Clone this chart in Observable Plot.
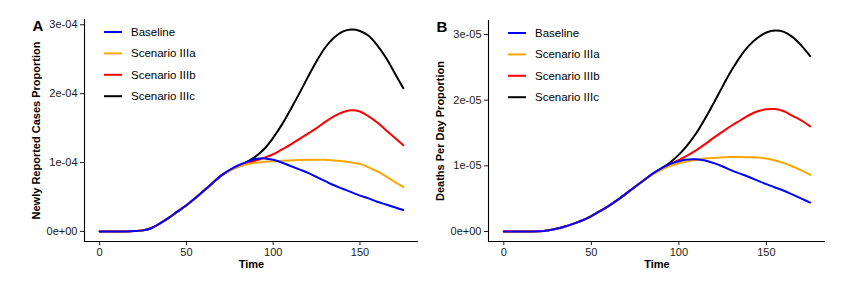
<!DOCTYPE html>
<html><head><meta charset="utf-8">
<script src="https://cdn.jsdelivr.net/npm/d3@7"></script>
<script src="https://cdn.jsdelivr.net/npm/@observablehq/plot@0.6"></script>
<style>
body{margin:0;background:#fff;}
#wrap{position:relative;width:851px;height:282px;overflow:hidden;background:#fff;}
#wrap svg{position:absolute;top:0;}
</style></head><body><div id="wrap"></div>
<script>
// ---------- data ----------
const time = [0,5,10,15,20,25,30,35,40,45,50,55,60,65,70,75,80,85,90,95,100,105,110,115,120,125,130,135,140,145,150,155,160,165,170,175];
const seriesNames = ["Baseline","Scenario IIIa","Scenario IIIb","Scenario IIIc"];
const seriesColors = ["#0000FF","#FFA500","#FF0000","#000000"];

// Panel A: newly reported cases proportion (units of 1e-4)
const casesUnit = 1e-4;
const casesBaseline = [0,0,0,0,0.005,0.015,0.05,0.12,0.2,0.29,0.38,0.48,0.59,0.70,0.81,0.895,0.96,1.01,1.05,1.06,1.04,1.0,0.95,0.90,0.85,0.79,0.73,0.67,0.62,0.57,0.52,0.48,0.43,0.39,0.35,0.31];
const casesIIIa     = [0,0,0,0,0.005,0.015,0.05,0.12,0.2,0.29,0.38,0.48,0.59,0.70,0.81,0.885,0.94,0.975,0.995,1.01,1.02,1.025,1.03,1.035,1.04,1.04,1.04,1.03,1.02,1.00,0.98,0.93,0.87,0.80,0.72,0.645];
const casesIIIb     = [0,0,0,0,0.005,0.015,0.05,0.12,0.2,0.29,0.38,0.48,0.59,0.70,0.81,0.885,0.94,0.985,1.03,1.07,1.12,1.19,1.26,1.34,1.42,1.50,1.59,1.67,1.73,1.76,1.74,1.67,1.58,1.47,1.36,1.25];
const casesIIIc     = [0,0,0,0,0.005,0.015,0.05,0.12,0.2,0.29,0.38,0.48,0.59,0.70,0.81,0.885,0.95,1.01,1.09,1.20,1.36,1.55,1.77,2.0,2.24,2.47,2.67,2.81,2.90,2.93,2.91,2.84,2.70,2.52,2.30,2.08];

// Panel B: deaths per day proportion (units of 1e-5)
const deathsUnit = 1e-5;
const deathsBaseline = [0,0,0,0,0.003,0.015,0.04,0.075,0.12,0.17,0.235,0.31,0.39,0.48,0.58,0.68,0.78,0.88,0.96,1.03,1.07,1.095,1.10,1.08,1.04,0.99,0.93,0.88,0.83,0.775,0.72,0.67,0.62,0.56,0.50,0.44];
const deathsIIIa     = [0,0,0,0,0.003,0.015,0.04,0.075,0.12,0.17,0.235,0.31,0.39,0.48,0.58,0.68,0.78,0.87,0.94,1.0,1.04,1.07,1.09,1.11,1.12,1.13,1.135,1.135,1.13,1.125,1.11,1.08,1.04,0.99,0.93,0.86];
const deathsIIIb     = [0,0,0,0,0.003,0.015,0.04,0.075,0.12,0.17,0.235,0.31,0.39,0.48,0.58,0.68,0.78,0.875,0.95,1.02,1.09,1.16,1.24,1.33,1.43,1.52,1.61,1.69,1.77,1.83,1.86,1.865,1.83,1.76,1.69,1.60];
const deathsIIIc     = [0,0,0,0,0.003,0.015,0.04,0.075,0.12,0.17,0.235,0.31,0.39,0.48,0.58,0.68,0.78,0.875,0.96,1.05,1.17,1.32,1.50,1.72,1.96,2.21,2.45,2.66,2.83,2.95,3.03,3.06,3.04,2.96,2.83,2.67];

// tick labels
const xTicks = [0,50,100,150];
const casesTicks = [0,1e-4,2e-4,3e-4];
const casesTickLabels = ["0e+00","1e-04","2e-04","3e-04"];
const deathsTicks = [0,1e-5,2e-5,3e-5];
const deathsTickLabels = ["0e+00","1e-05","2e-05","3e-05"];

// ---------- drawing ----------
const FONT = "'Liberation Sans', Arial, Helvetica, sans-serif";

function expand([a,b]) { const p = (b-a)*0.05; return [a-p, b+p]; }

function makePanel(opts) {
  const {arrays, unit, yTicks, yTickLabels, yTitle, letter, width, marginLeft, marginRight, marginTop} = opts;
  const rows = [];
  // draw order: IIIc first, Baseline last (on top)
  for (let s = arrays.length - 1; s >= 0; s--) {
    arrays[s].forEach((v, i) => rows.push({time: time[i], value: v*unit, series: seriesNames[s]}));
  }
  const xDom = expand(d3.extent(time));
  const yDom = expand(d3.extent(rows, d => d.value));
  const svg = Plot.plot({
    width, height: 282,
    marginLeft, marginRight, marginTop, marginBottom: 41,
    style: {fontFamily: FONT, fontSize: "11px", color: "#1a1a1a", background: "transparent", overflow: "visible"},
    x: {domain: xDom, label: null},
    y: {domain: yDom, label: null},
    color: {domain: seriesNames, range: seriesColors},
    marks: [
      Plot.line(rows, {x: "time", y: "value", z: "series", stroke: "series", strokeWidth: 2, curve: "catmull-rom"}),
      Plot.ruleX([xDom[0]], {stroke: "black", strokeWidth: 1.1}),
      Plot.ruleY([yDom[0]], {stroke: "black", strokeWidth: 1.1}),
      Plot.axisX({ticks: xTicks, tickSize: 4, tickPadding: 3, label: null, fontSize: 11}),
      Plot.axisY({ticks: yTicks, tickSize: 4, tickPadding: 3, label: null, fontSize: 11,
                  tickFormat: d => yTickLabels[yTicks.indexOf(d)]}),
      Plot.text(["Time"], {frameAnchor: "bottom", dy: 26, fontWeight: "bold", fontSize: 11, fill: "black"}),
      Plot.text([yTitle], {frameAnchor: "left", dx: -48, rotate: -90, textAnchor: "middle", fontWeight: "bold", fontSize: 11, fill: "black"}),
      Plot.text([letter], {frameAnchor: "top-left", dx: -52, dy: 1, textAnchor: "start", lineAnchor: "top", fontWeight: "bold", fontSize: 15, fill: "black"})
    ]
  });
  // legend inside the panel (top-left)
  const g = d3.select(svg).append("g").attr("font-family", FONT).attr("font-size", "11.5px")
    .attr("text-anchor", "start");
  seriesNames.forEach((name, i) => {
    const y = marginTop + 13 + i*21.4;
    g.append("line").attr("x1", marginLeft + 20).attr("x2", marginLeft + 38)
      .attr("y1", y).attr("y2", y).attr("stroke", seriesColors[i]).attr("stroke-width", 2);
    g.append("text").attr("x", marginLeft + 47).attr("y", y).attr("dy", "0.35em")
      .attr("text-anchor", "start").attr("fill", "black").text(name);
  });
  return svg;
}

const wrap = document.getElementById("wrap");
const a = makePanel({arrays: [casesBaseline, casesIIIa, casesIIIb, casesIIIc], unit: casesUnit,
  yTicks: casesTicks, yTickLabels: casesTickLabels, yTitle: "Newly Reported Cases Proportion", letter: "A",
  width: 425, marginLeft: 84, marginRight: 7, marginTop: 19});
a.style.left = "0px";
wrap.appendChild(a);
const b = makePanel({arrays: [deathsBaseline, deathsIIIa, deathsIIIb, deathsIIIc], unit: deathsUnit,
  yTicks: deathsTicks, yTickLabels: deathsTickLabels, yTitle: "Deaths Per Day Proportion", letter: "B",
  width: 426, marginLeft: 63, marginRight: 26, marginTop: 20});
b.style.left = "425px";
wrap.appendChild(b);
</script>
</body></html>
